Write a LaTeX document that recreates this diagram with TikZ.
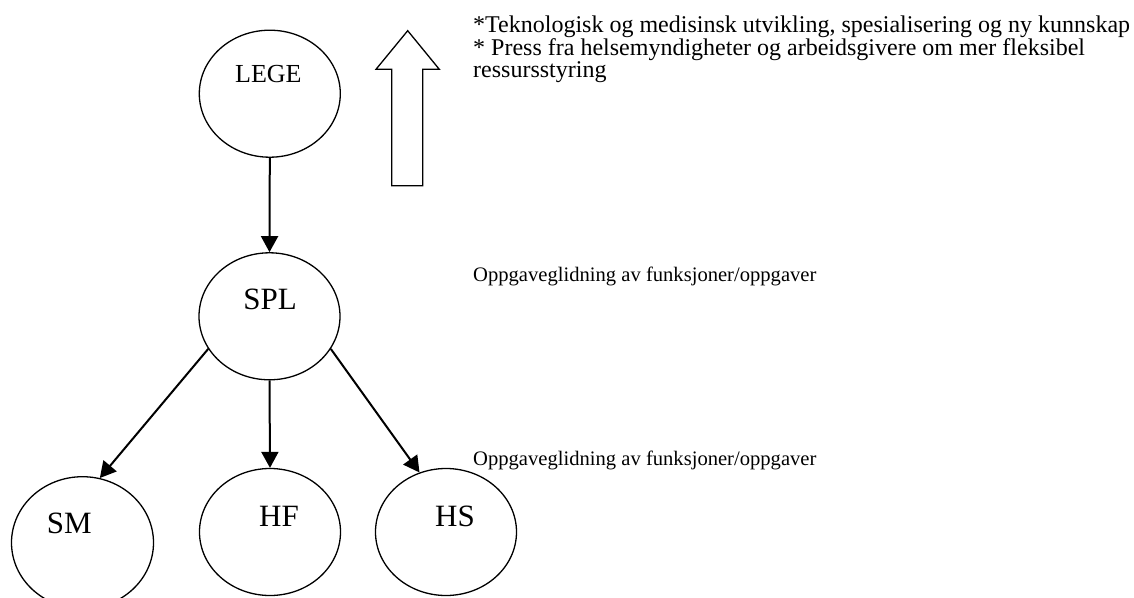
\documentclass[tikz,border=0pt]{standalone}
\usepackage{fontspec}
\setmainfont{Liberation Serif}
\usetikzlibrary{shapes.geometric,arrows.meta}
\begin{document}
\begin{tikzpicture}[x=1pt,y=-1pt,
  role/.style={draw, ellipse, line width=1.3pt, inner sep=0pt,
               minimum width=141pt, minimum height=127pt},
  rolename/.style={anchor=base, inner sep=0pt, font=\fontsize{31}{31}\selectfont},
  flow/.style={line width=2pt, -{Triangle[length=16pt,width=17pt]}},
  note/.style={anchor=base west, inner sep=0pt, font=\fontsize{24}{24}\selectfont},
  smallnote/.style={anchor=base west, inner sep=0pt, font=\fontsize{20.6}{20.6}\selectfont}]
\useasboundingbox (0,0) rectangle (1134,597);
\clip (0,0) rectangle (1134,597);

% role ellipses
\node[role] (lege) at (269.8,93.7) {};
\node[role] (spl)  at (269.5,316.3) {};
\node[role, minimum width=142pt, minimum height=132pt] (sm) at (82.5,542.7) {};
\node[role] (hf)   at (270,532) {};
\node[role] (hs)   at (446,532) {};

% names inside the ellipses
\node[rolename, font=\fontsize{26}{26}\selectfont] (legename) at (268.4,82.3) {LEGE};
\node[rolename] (splname) at (270,309.3) {SPL};
\node[rolename] (smname)  at (69.2,533.3) {SM};
\node[rolename] (hfname)  at (279,526.3) {HF};
\node[rolename] (hsname)  at (455,526.3) {HS};

% delegation arrows
\draw[flow] (lege.south) -- (spl.north);
\draw[flow] (spl.208) -- (sm.75);
\draw[flow] (spl.south) -- (hf.north);
\draw[flow] (spl.-28) -- (hs.114);

% hollow upward block arrow
\draw[line width=1.3pt, line join=miter]
  (391.7,185.7) -- (391.7,69.3) -- (376,69.3) -- (407.7,30.7)
  -- (439.3,69.3) -- (422.7,69.3) -- (422.7,185.7) -- cycle;

% driving forces
\node[note] (drive1) at (473,32) {*Teknologisk og medisinsk utvikling, spesialisering og ny kunnskap};
\node[note] (drive2) at (473,55) {* Press fra helsemyndigheter og arbeidsgivere om mer fleksibel};
\node[note] (drive3) at (473,77.5) {ressursstyring};

% task shifting notes
\node[smallnote] (shift1) at (473,281.7) {Oppgaveglidning av funksjoner/oppgaver};
\node[smallnote] (shift2) at (473,465.4) {Oppgaveglidning av funksjoner/oppgaver};
\end{tikzpicture}
\end{document}
